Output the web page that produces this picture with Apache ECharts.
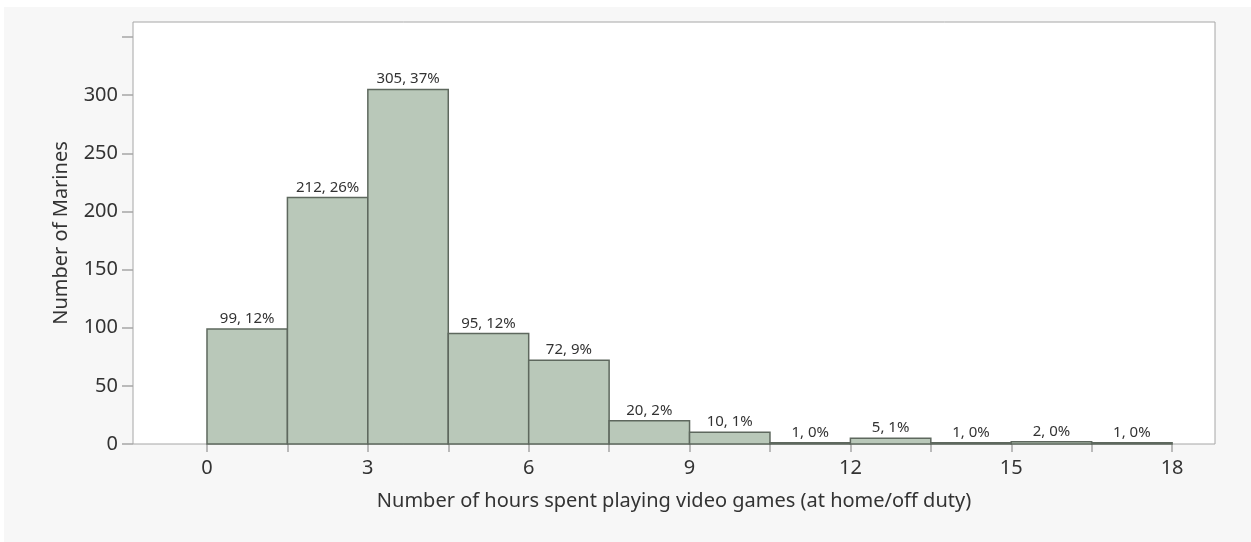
<!DOCTYPE html>
<html>
<head>
<meta charset="utf-8">
<script src="https://cdn.jsdelivr.net/npm/echarts@6/dist/echarts.min.js"></script>
<style>
html,body{margin:0;padding:0;background:#ffffff;}
#chart{position:absolute;left:4px;top:7px;width:1247px;height:535px;background:#f7f7f7;}
</style>
</head>
<body>
<div id="chart"></div>
<script>
// Histogram data
const binStarts = [0, 1.5, 3, 4.5, 6, 7.5, 9, 10.5, 12, 13.5, 15, 16.5];
const binWidth = 1.5;
const counts = [99, 212, 305, 95, 72, 20, 10, 1, 5, 1, 2, 1];
const percents = [12, 26, 37, 12, 9, 2, 1, 0, 1, 0, 0, 0];
const xTickValues = [0, 1.5, 3, 4.5, 6, 7.5, 9, 10.5, 12, 13.5, 15, 16.5, 18];
const xLabelValues = [0, 3, 6, 9, 12, 15, 18];
const yTickValues = [0, 50, 100, 150, 200, 250, 300, 350];
const yLabelValues = [0, 50, 100, 150, 200, 250, 300];
const xTitle = 'Number of hours spent playing video games (at home/off duty)';
const yTitle = 'Number of Marines';

const FONT = "'Noto Sans', 'Open Sans', sans-serif";
const chart = echarts.init(document.getElementById('chart'), null, {renderer: 'canvas'});

const seriesData = binStarts.map((s, i) => [s, s + binWidth, counts[i], percents[i]]);

chart.setOption({
  animation: false,
  backgroundColor: '#f7f7f7',
  grid: {
    left: 129, top: 15, width: 1082, height: 422,
    show: true, backgroundColor: '#ffffff', borderColor: '#a6a6a6', borderWidth: 1
  },
  xAxis: {
    type: 'value', min: -1.38, max: 18.8,
    name: xTitle, nameLocation: 'middle', nameGap: 47,
    nameTextStyle: {fontFamily: FONT, fontSize: 20, color: '#333333'},
    axisLine: {show: false, onZero: false},
    splitLine: {show: false},
    axisTick: {show: true, length: 8, lineStyle: {color: '#a6a6a6', width: 1.5}, customValues: xTickValues},
    axisLabel: {customValues: xLabelValues, fontFamily: FONT, fontSize: 20, color: '#333333', margin: 14}
  },
  yAxis: {
    type: 'value', min: 0, max: 363,
    name: yTitle, nameLocation: 'middle', nameGap: 62,
    nameTextStyle: {fontFamily: FONT, fontSize: 20, color: '#333333'},
    axisLine: {show: false, onZero: false},
    splitLine: {show: false},
    axisTick: {show: true, length: 11, lineStyle: {color: '#a6a6a6', width: 1.5}, customValues: yTickValues},
    axisLabel: {customValues: yLabelValues, fontFamily: FONT, fontSize: 20, color: '#333333', margin: 15}
  },
  series: [{
    type: 'custom',
    data: seriesData,
    encode: {x: [0, 1], y: 2},
    renderItem: function (params, api) {
      const p0 = api.coord([api.value(0), api.value(2)]);
      const p1 = api.coord([api.value(1), 0]);
      return {
        type: 'rect',
        shape: {x: p0[0], y: p0[1], width: p1[0] - p0[0], height: p1[1] - p0[1]},
        style: {fill: '#b9c8b9', stroke: '#5e685e', lineWidth: 1.5},
        textContent: {
          style: {
            text: api.value(2) + ', ' + api.value(3) + '%',
            fontFamily: FONT, fontSize: 15, fill: '#333333'
          }
        },
        textConfig: {position: 'top', distance: 2}
      };
    }
  }]
});
</script>
</body>
</html>
